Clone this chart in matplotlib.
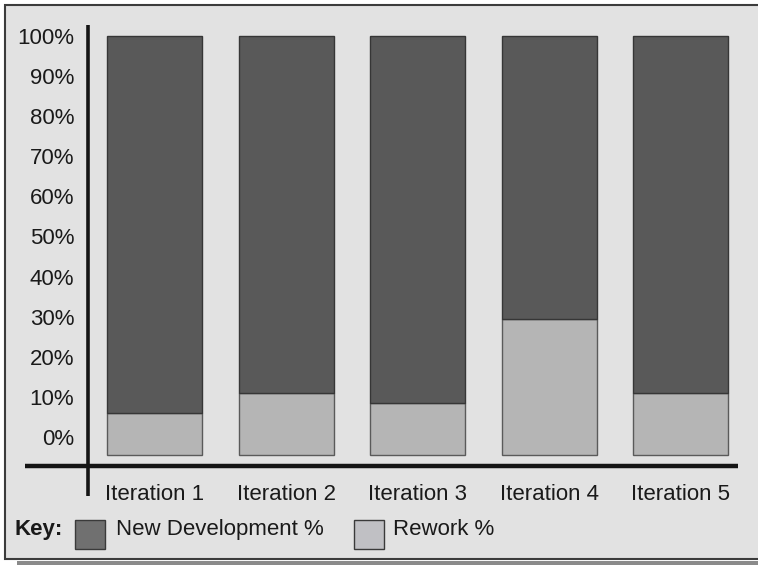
import matplotlib.pyplot as plt
from matplotlib.patches import Rectangle
from matplotlib.lines import Line2D

plt.rcParams['font.family'] = ['Liberation Sans', 'DejaVu Sans']

iterations = ["Iteration 1", "Iteration 2", "Iteration 3", "Iteration 4", "Iteration 5"]
rework = [6, 11, 8.5, 29.5, 11]
new_development = [100 - r for r in rework]
yticks = list(range(0, 101, 10))
baseline = -4.5

BG = "#e2e2e2"
DARK = "#595959"
LIGHT = "#b5b5b5"
FS = 16

W, H = 758, 565
fig = plt.figure(figsize=(W / 100, H / 100), dpi=100)
fig.patch.set_facecolor("white")

# framed panel with a drop shadow along the bottom
fig.add_artist(Rectangle((17 / W, 0), 1, 4 / H, transform=fig.transFigure,
                         facecolor="#8a8a8a", edgecolor="none", zorder=-2))
fig.add_artist(Rectangle((5 / W, (H - 559) / H), 1, (559 - 5) / H,
                         transform=fig.transFigure, facecolor=BG,
                         edgecolor="#3c3c3c", linewidth=1.5, zorder=-1))

# plot area in pixels: x 88..738, y 25..466 (from top)
ax = fig.add_axes([88 / W, (H - 466) / H, 650 / W, 441 / H])
ax.set_facecolor("none")
for s in ax.spines.values():
    s.set_visible(False)

x = range(len(iterations))
ax.bar(x, [r - baseline for r in rework], bottom=baseline, width=0.722,
       color=LIGHT, edgecolor="#5a5a5a", linewidth=1)
ax.bar(x, new_development, bottom=rework, width=0.722,
       color=DARK, edgecolor="#363636", linewidth=1)

ax.set_xlim(-0.506, 4.437)
ax.set_ylim(-7.23, 102.74)

ax.set_yticks(yticks)
ax.set_yticklabels([f"{t}%" for t in yticks], fontsize=FS, color="#1a1a1a")
ax.set_xticks(list(x))
ax.set_xticklabels(iterations, fontsize=FS, color="#1a1a1a")
ax.tick_params(axis="y", length=0, pad=10)
ax.tick_params(axis="x", length=0, pad=13)

# heavy crossing axis lines
ax.add_line(Line2D([-63 / 650, 1.0], [0, 0], transform=ax.transAxes,
                   color="#141414", linewidth=3.2, clip_on=False,
                   solid_capstyle="butt"))
ax.add_line(Line2D([0, 0], [-30 / 441, 1.0], transform=ax.transAxes,
                   color="#141414", linewidth=2.6, clip_on=False,
                   solid_capstyle="butt"))

# key row
ky = (H - 535) / H
fig.text(14 / W, ky, "Key:", fontsize=FS, fontweight="bold",
         va="baseline", ha="left", color="#1a1a1a")
fig.add_artist(Rectangle((75 / W, (H - 549) / H), 30 / W, 29 / H,
                         transform=fig.transFigure, facecolor="#707070",
                         edgecolor="#3a3a3a", linewidth=1))
fig.text(116 / W, ky, "New Development %", fontsize=FS,
         va="baseline", ha="left", color="#1a1a1a")
fig.add_artist(Rectangle((354 / W, (H - 549) / H), 30 / W, 29 / H,
                         transform=fig.transFigure, facecolor="#c0c0c4",
                         edgecolor="#3a3a3a", linewidth=1))
fig.text(393 / W, ky, "Rework %", fontsize=FS,
         va="baseline", ha="left", color="#1a1a1a")

fig.savefig("out.png", dpi=100, facecolor=fig.get_facecolor())
